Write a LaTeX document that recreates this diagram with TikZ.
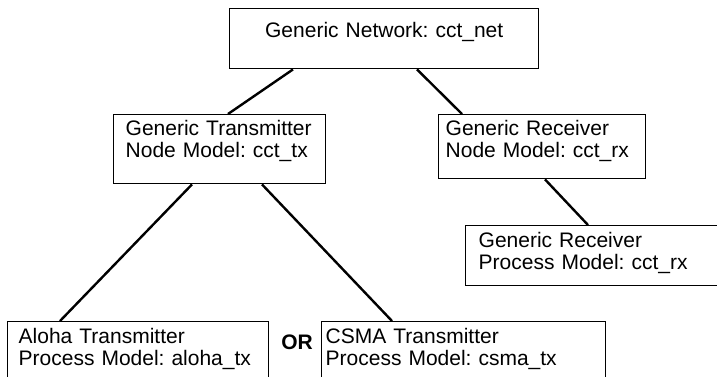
\documentclass[tikz,border=0pt]{standalone}
\usepackage{fontspec}
\setmainfont{Liberation Sans}

\begin{document}
\begin{tikzpicture}[x=1pt,y=-1pt,
  font=\fontsize{21}{22}\selectfont\frenchspacing,
  blk/.style={draw,line width=1.4pt,anchor=north west,align=left,
              inner ysep=0pt,text height=21pt},
  link/.style={line width=2.4pt}]
\clip (0,0) rectangle (717,376);
% network and node models
\node[blk,align=center,inner xsep=10pt,text width=289pt,text height=29pt,
      text depth=31pt] (net) at (229,8) {Generic Network: cct\_net};
\node[blk,inner xsep=12pt,text width=188pt,text depth=48pt] (tx) at (113,114)
  {Generic Transmitter\\Node Model: cct\_tx};
\node[blk,inner xsep=7pt,text width=193pt,text depth=43pt] (rx) at (438,114)
  {Generic Receiver\\Node Model: cct\_rx};
% process models
\node[blk,inner xsep=13pt,text width=249pt,text height=22pt,text depth=38pt] (rxp)
  at (465,225) {Generic Receiver\\Process Model: cct\_rx};
\node[blk,inner xsep=11pt,text width=239pt,text height=22pt,text depth=70pt] (aloha)
  at (7,321) {Aloha Transmitter\\Process Model: aloha\_tx};
\node[blk,inner xsep=4pt,text width=276pt,text height=22pt,text depth=70pt] (csma)
  at (321,321) {CSMA Transmitter\\Process Model: csma\_tx};
\node[font=\fontsize{21}{22}\selectfont\bfseries] (orsel) at (297,342) {OR};
% tree links
\draw[link] ([xshift=64pt]net.south west) -- ([xshift=115pt]tx.north west);
\draw[link] ([xshift=188pt]net.south west) -- ([xshift=24pt]rx.north west);
\draw[link] ([xshift=79pt]tx.south west) -- ([xshift=53pt]aloha.north west);
\draw[link] ([xshift=149pt]tx.south west) -- ([xshift=71pt]csma.north west);
\draw[link] ([xshift=107pt]rx.south west) -- ([xshift=123pt]rxp.north west);
\end{tikzpicture}
\end{document}
